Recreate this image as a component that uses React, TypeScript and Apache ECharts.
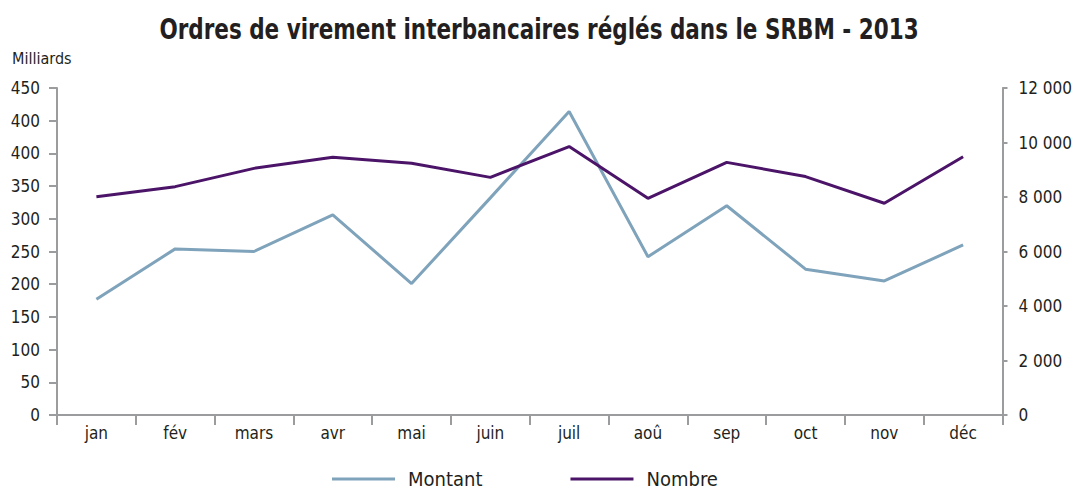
import React, { useEffect, useRef } from "react";
import * as echarts from "echarts";

const months = ["jan", "fév", "mars", "avr", "mai", "juin", "juil", "aoû", "sep", "oct", "nov", "déc"];
const montant = [177, 254, 250, 306, 201, 332, 464, 242, 320, 223, 205, 260];
const nombre = [8010, 8380, 9050, 9460, 9240, 8720, 9850, 7950, 9270, 8750, 7770, 9480];
const leftTickLabels = ["0", "50", "100", "150", "200", "250", "300", "350", "400", "400", "450"];
const rightTickLabels = ["0", "2 000", "4 000", "6 000", "8 000", "10 000", "12 000"];
const titleText = "Ordres de virement interbancaires réglés dans le SRBM - 2013";

const FONT = "'Liberation Sans Narrow', 'DejaVu Sans Condensed', 'Liberation Sans', sans-serif";
const TEXT = "#231f20";
const AXIS = "#9b9c9e";

export default function App() {
  const ref = useRef<HTMLDivElement>(null);
  useEffect(() => {
    if (!ref.current) return;
    const chart = echarts.init(ref.current, undefined, { renderer: "svg" });
    chart.setOption({
      animation: false,
      backgroundColor: "#ffffff",
      graphic: [
        {
          type: "text",
          x: 539,
          y: 29,
          scaleX: 0.825,
          style: {
            text: titleText,
            fontFamily: FONT,
            fontSize: 29,
            fontWeight: "bold",
            fill: TEXT,
            textAlign: "center",
            textVerticalAlign: "middle",
          },
        },
        {
          type: "text",
          left: 12,
          top: 50,
          style: { text: "Milliards", fontFamily: FONT, fontSize: 16, fill: TEXT },
        },
      ],
      legend: {
        left: 332,
        top: 469,
        padding: 0,
        itemWidth: 63,
        itemHeight: 3,
        itemGap: 88,
        icon: "rect",
        textStyle: { fontFamily: FONT, fontSize: 20, color: TEXT, lineHeight: 20, padding: [0, 0, 0, 8] },
        data: ["Montant", "Nombre"],
      },
      grid: { left: 57, right: 69, top: 88, bottom: 78, containLabel: false },
      xAxis: {
        type: "category",
        data: months,
        boundaryGap: true,
        axisLine: { lineStyle: { color: AXIS, width: 2 } },
        axisTick: { show: true, length: 10, lineStyle: { color: AXIS, width: 2 } },
        axisLabel: { fontFamily: FONT, fontSize: 17, color: TEXT, margin: 9 },
      },
      yAxis: [
        {
          type: "value",
          min: 0,
          max: 500,
          interval: 50,
          position: "left",
          splitLine: { show: false },
          axisLine: { show: true, lineStyle: { color: AXIS, width: 2 } },
          axisTick: { show: true, length: 8, lineStyle: { color: AXIS, width: 2 } },
          axisLabel: {
            fontFamily: FONT,
            fontSize: 17,
            color: TEXT,
            margin: 17,
            formatter: (v: number) => leftTickLabels[Math.round(v / 50)] ?? "",
          },
        },
        {
          type: "value",
          min: 0,
          max: 12000,
          interval: 2000,
          position: "right",
          splitLine: { show: false },
          axisLine: { show: true, lineStyle: { color: AXIS, width: 2 } },
          axisTick: { show: true, length: 5, lineStyle: { color: AXIS, width: 2 } },
          axisLabel: {
            fontFamily: FONT,
            fontSize: 17,
            color: TEXT,
            margin: 16,
            formatter: (v: number) => rightTickLabels[Math.round(v / 2000)] ?? "",
          },
        },
      ],
      series: [
        {
          name: "Montant",
          type: "line",
          yAxisIndex: 0,
          data: montant,
          symbol: "none",
          lineStyle: { color: "#7fa3bb", width: 3 },
          itemStyle: { color: "#7fa3bb" },
        },
        {
          name: "Nombre",
          type: "line",
          yAxisIndex: 1,
          data: nombre,
          symbol: "none",
          lineStyle: { color: "#4b1468", width: 3 },
          itemStyle: { color: "#4b1468" },
        },
      ],
    });
    return () => chart.dispose();
  }, []);
  return (
    <div
      ref={ref}
      style={{ position: "fixed", left: 0, top: 0, width: 1075, height: 493, background: "#fff" }}
    />
  );
}
